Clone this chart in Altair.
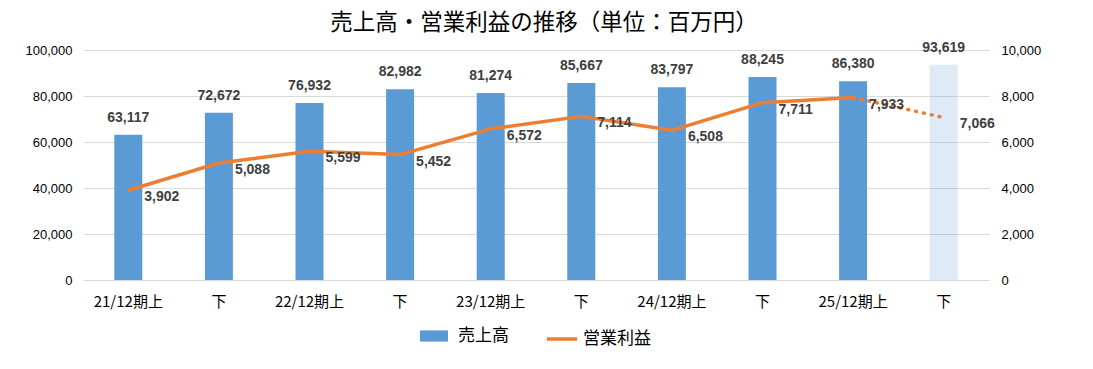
import altair as alt
import pandas as pd

periods = ["21/12期上", "21/12期下", "22/12期上", "22/12期下", "23/12期上",
           "23/12期下", "24/12期上", "24/12期下", "25/12期上", "25/12期下"]
sales = [63117, 72672, 76932, 82982, 81274, 85667, 83797, 88245, 86380, 93619]
profit = [3902, 5088, 5599, 5452, 6572, 7114, 6508, 7711, 7933, 7066]
forecast = [False, False, False, False, False, False, False, False, False, True]
left_ticks = [0, 20000, 40000, 60000, 80000, 100000]
right_ticks = [0, 2000, 4000, 6000, 8000, 10000]

df = pd.DataFrame({"period": periods, "sales": sales, "profit": profit, "forecast": forecast})
df["s_name"] = "売上高"
df["p_name"] = "営業利益"
df_solid = df.iloc[:9]
df_dot = df.iloc[8:]

BLUE = "#5B9BD5"
ORANGE = "#ED7D31"
NUM_FONT = "Liberation Sans"
JP_FONT = "Noto Sans CJK JP"

x_enc = alt.X("period:N", sort=periods, title=None,
              scale=alt.Scale(paddingInner=0, paddingOuter=0),
              axis=alt.Axis(labelExpr="slice(datum.label, -1) == '下' ? '下' : datum.label",
                            labelAngle=0, labelFont=JP_FONT, labelFontSize=15,
                            labelColor="#000000", labelPadding=14, ticks=False,
                            domain=False, grid=False))

y_left = alt.Y("sales:Q", title=None,
               scale=alt.Scale(domain=[0, 100000], nice=False),
               axis=alt.Axis(values=left_ticks, labelExpr="format(datum.value, ',')",
                             labelFont=NUM_FONT,
                             labelFontSize=13, labelColor="#000000", labelPadding=11,
                             ticks=False, domain=False, grid=True,
                             gridColor="#D9D9D9", gridWidth=1))

base = alt.Chart(df)

bars = base.mark_bar(size=28).encode(
    x=x_enc,
    y=y_left,
    fill=alt.Fill("s_name:N",
        scale=alt.Scale(domain=["売上高"], range=[BLUE]),
        legend=alt.Legend(orient="none", legendX=337, legendY=272, title=None,
                          symbolType="M-1,-0.4H1V0.4H-1Z", symbolSize=784,
                          symbolStrokeWidth=0, symbolOpacity=1,
                          labelFont=JP_FONT, labelFontSize=17,
                          labelColor="#000000", labelOffset=10)),
    opacity=alt.condition("datum.forecast", alt.value(0.2), alt.value(1)),
)

bar_text = base.mark_text(font=NUM_FONT, fontSize=14, fontWeight="bold",
                          color="#404040", baseline="middle", dy=-17).encode(
    x=alt.X("period:N", sort=periods),
    y=alt.Y("sales:Q"),
    text=alt.Text("sales:Q", format=","),
)

left_layer = alt.layer(bars, bar_text)

y_right = alt.Y("profit:Q", title=None,
                scale=alt.Scale(domain=[0, 10000], nice=False),
                axis=alt.Axis(orient="right", values=right_ticks,
                              labelExpr="format(datum.value, ',')",
                              labelFont=NUM_FONT, labelFontSize=13,
                              labelColor="#000000", labelPadding=12,
                              ticks=False, domain=False, grid=False))

line_solid = alt.Chart(df_solid).mark_line(strokeWidth=3.5, strokeJoin="round").encode(
    x=alt.X("period:N", sort=periods),
    y=y_right,
    stroke=alt.Stroke("p_name:N",
        scale=alt.Scale(domain=["営業利益"], range=[ORANGE]),
        legend=alt.Legend(orient="none", legendX=462, legendY=272, title=None,
                          symbolType="stroke", symbolSize=900, symbolStrokeWidth=3.5,
                          labelFont=JP_FONT, labelFontSize=17,
                          labelColor="#000000", labelOffset=4)),
)

line_dot = alt.Chart(df_dot).mark_line(strokeWidth=3.5, strokeDash=[1, 7],
                                       strokeCap="round", color=ORANGE).encode(
    x=alt.X("period:N", sort=periods),
    y=alt.Y("profit:Q"),
)

line_text = base.mark_text(font=NUM_FONT, fontSize=14, fontWeight="bold",
                           color="#404040", align="left", baseline="middle",
                           dx=16, dy=7).encode(
    x=alt.X("period:N", sort=periods),
    y=alt.Y("profit:Q"),
    text=alt.Text("profit:Q", format=","),
)

right_layer = alt.layer(line_solid, line_dot, line_text)

chart = alt.layer(left_layer, right_layer).resolve_scale(
    y="independent"
).properties(
    width=906, height=230,
    autosize=alt.AutoSizeParams(type="none"),
    padding={"left": 75, "top": 42, "right": 96, "bottom": 81},
    title=alt.TitleParams("売上高・営業利益の推移（単位：百万円）", font=JP_FONT,
                          fontSize=22.5, fontWeight="normal", color="#000000",
                          anchor="middle", offset=6, dx=8),
).configure_view(stroke=None)

chart.save("out.html", embed_options={"renderer": "svg", "actions": False})
